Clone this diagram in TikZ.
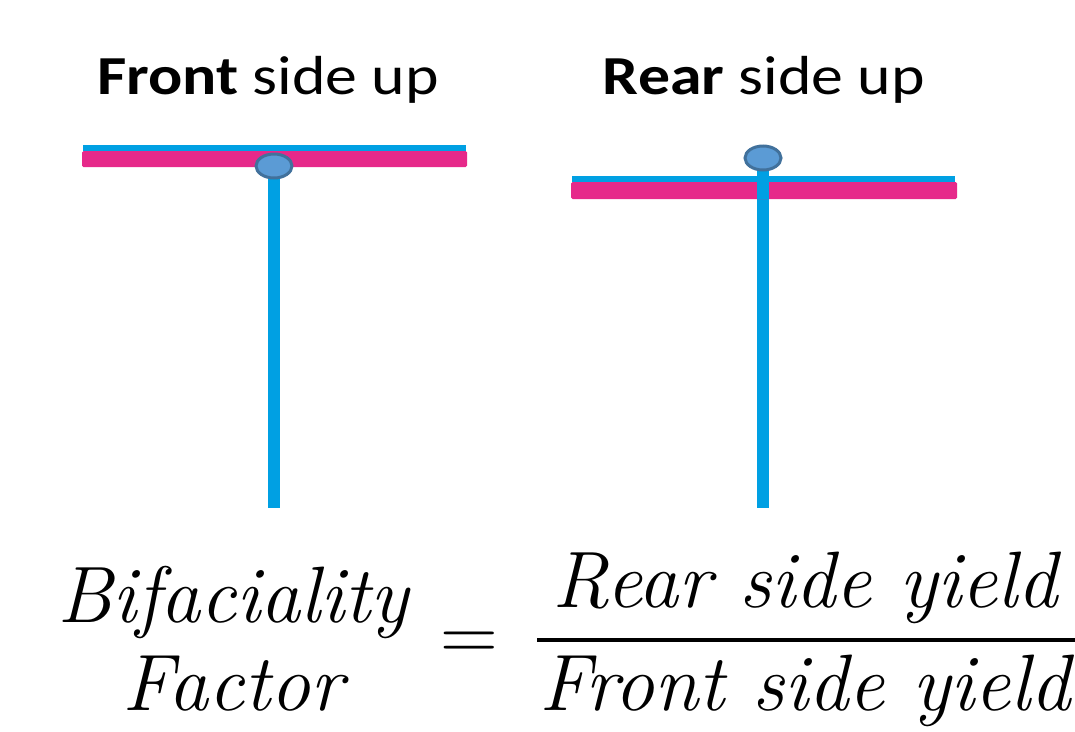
\documentclass[tikz,border=0pt]{standalone}
\usepackage{fontspec}
\newfontfamily\headfont[FakeStretch=1.16]{Carlito}
\definecolor{cyanbar}{HTML}{00A0E3}
\definecolor{pinkbar}{HTML}{E6298A}
\definecolor{dotfill}{HTML}{5B9BD5}
\definecolor{dotline}{HTML}{41719C}
\tikzset{
  blueline/.style={fill=cyanbar, draw=none},
  pinkpanel/.style={fill=pinkbar, draw=none, rounded corners=1.5pt},
  stem/.style={fill=cyanbar, draw=none},
  pivot/.style={ellipse, fill=dotfill, draw=dotline, line width=3pt, minimum width=36pt, minimum height=24pt, inner sep=0pt},
  headline/.style={font=\headfont\fontsize{55}{64}\selectfont, anchor=base, inner sep=0pt},
  eqtext/.style={font=\itshape\fontsize{80}{90}\selectfont, anchor=base, inner sep=0pt},
}
\usetikzlibrary{shapes.geometric}
\begin{document}
\begin{tikzpicture}[x=1pt,y=-1pt]
\useasboundingbox (0,0) rectangle (1075,731);
% headings
\node[headline] (h1) at (268,94) {\textbf{Front} side up};
\node[headline] (h2) at (764,94) {\textbf{Rear} side up};
% left T
\fill[blueline] (83,145) rectangle (466,151);
\fill[pinkpanel] (82,151) rectangle (467,167);
\fill[stem] (268,166) rectangle (280,508);
\node[pivot] (p1) at (274,166) {};
% right T
\fill[stem] (757,158) rectangle (769,508);
\fill[blueline] (572,176) rectangle (955,182);
\fill[pinkpanel] (571,182) rectangle (957,199);
\fill[stem] (757,176) rectangle (769,199);
\node[pivot] (p2) at (763,158) {};
% equation
\node[eqtext] (b1) at (233,622) {Bifaciality};
\node[eqtext] (b2) at (233,710) {Factor};
\node[eqtext] (eq) at (469,660) {\upshape =};
\node[eqtext] (num) at (805,607) {Rear side yield};
\node[eqtext] (den) at (805,710) {Front side yield};
\draw[line width=4pt] (537,640) -- (1075,640);
\end{tikzpicture}
\end{document}
